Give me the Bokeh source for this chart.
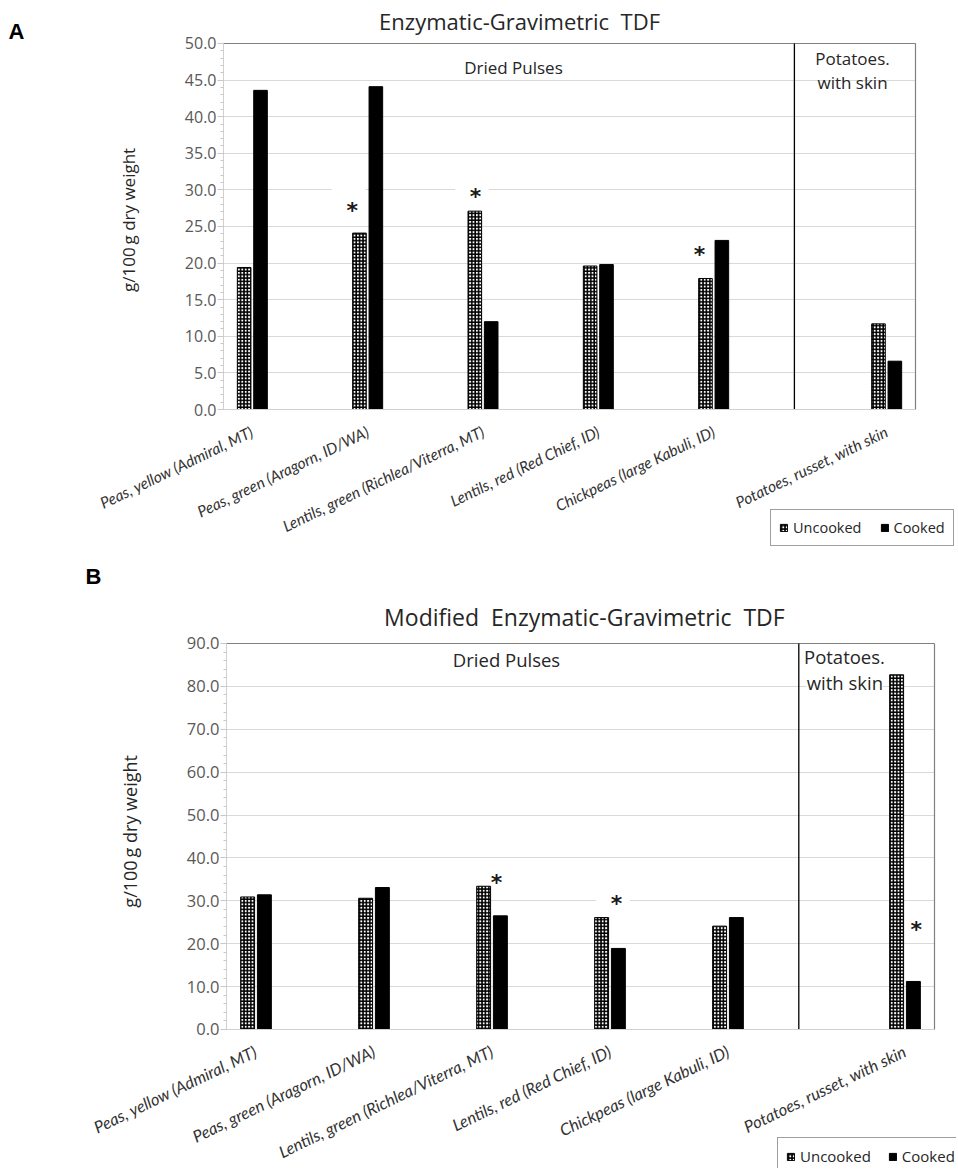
import math
from bokeh.plotting import figure
from bokeh.models import (Range1d, FixedTicker, SingleIntervalTicker, NumeralTickFormatter,
                          Label, Legend, LegendItem, ColumnDataSource)
from bokeh.layouts import column
from bokeh.embed import file_html
from bokeh.resources import INLINE

# ---------------- data ----------------
categories = ["Peas, yellow (Admiral, MT)", "Peas, green (Aragorn, ID/WA)",
              "Lentils, green (Richlea/Viterra, MT)", "Lentils, red (Red Chief, ID)",
              "Chickpeas (large Kabuli, ID)", "Potatoes, russet, with skin"]
groups = ["Dried Pulses"] * 5 + ["Potatoes"]
series = ["Uncooked", "Cooked"]

a_uncooked = [19.4, 24.1, 27.1, 19.6, 17.9, 11.7]
a_cooked = [43.6, 44.1, 12.0, 19.8, 23.1, 6.6]
b_uncooked = [30.9, 30.6, 33.4, 26.1, 24.1, 82.7]
b_cooked = [31.4, 33.1, 26.5, 18.9, 26.1, 11.2]

a_title = "Enzymatic-Gravimetric\u00a0\u00a0TDF"
b_title = "Modified\u00a0\u00a0Enzymatic-Gravimetric\u00a0\u00a0TDF"
y_label = "g/100\u2009g dry weight"
group_label_1 = "Dried Pulses"
group_label_2 = ["Potatoes.", "with skin"]

a_sig = [1, 2, 4]   # categories with significance asterisk
b_sig = [2, 3, 5]

# category positions (extra half slot between the two groups)
pos = []
g_idx = 0
prev = groups[0]
for i, g in enumerate(groups):
    if g != prev:
        g_idx += 1
        prev = g
    pos.append(i + 0.5 * g_idx)

BAR_W = 0.118
OFF = 0.071
XLO, XHI = -0.25, 5.75


def make_panel(unc, cook, ymax, yint, h, xr, yr, fonts, annot, legend_loc):
    p = figure(width=956, height=h, x_range=Range1d(*xr), y_range=Range1d(*yr),
               output_backend="svg", toolbar_location=None, min_border=0)
    p.title.visible = False
    p.outline_line_color = None
    p.background_fill_color = "white"
    p.border_fill_color = "white"

    src_u = ColumnDataSource(dict(x=[v - OFF for v in pos], top=unc))
    src_c = ColumnDataSource(dict(x=[v + OFF for v in pos], top=cook))

    # axes positioned at the plot-area edges
    xa = p.xaxis[0]
    xa.fixed_location = 0
    xa.bounds = (XLO, XHI)
    xa.ticker = FixedTicker(ticks=pos)
    xa.major_label_overrides = {pos[i]: categories[i] for i in range(len(pos))}
    xa.major_label_orientation = 0.45
    xa.major_label_text_font = "Lato"
    xa.major_label_text_font_style = "italic"
    xa.major_label_text_font_size = fonts["cat"]
    xa.major_label_text_color = "#333333"
    xa.major_tick_line_color = None
    xa.minor_tick_line_color = None
    xa.major_tick_out = 0
    xa.major_tick_in = 0
    xa.major_label_standoff = 21
    xa.axis_line_color = "#d0d0d0"

    ya = p.yaxis[0]
    ya.fixed_location = XLO
    ya.bounds = (0, ymax)
    ya.ticker = SingleIntervalTicker(interval=yint, num_minor_ticks=5)
    ya.formatter = NumeralTickFormatter(format="0.0")
    ya.axis_line_color = "#d0d0d0"
    ya.major_tick_line_color = "#c8c8c8"
    ya.major_tick_out = 6
    ya.major_tick_in = 0
    ya.minor_tick_line_color = "#c8c8c8"
    ya.minor_tick_out = 3
    ya.minor_tick_in = 0
    ya.major_label_text_font = "Open Sans"
    ya.major_label_text_font_size = fonts["tick"]
    ya.major_label_text_color = "#595959"
    ya.major_label_standoff = 1

    p.xgrid.visible = False
    yg = p.ygrid[0]
    yg.ticker = ya.ticker
    yg.bounds = (0, ymax)
    yg.cross_bounds = (XLO, XHI)
    yg.grid_line_color = "#d9d9d9"
    yg.level = "image"

    # white boxes behind the asterisks (interrupt the gridlines, beneath bars)
    stars = annot["stars"]
    p.rect(x=[s[0] - annot["box_dx"] for s in stars], y=[s[1] + annot["box_dy"] for s in stars],
           width=34, height=30, width_units="screen", height_units="screen",
           fill_color="white", line_color=None, level="underlay")
    (px1, py1), (px2, py2) = annot["potato"]
    p.add_layout(Label(x=px2, y=py2, text=group_label_2[1], text_align="center",
                       text_baseline="middle", text_font="Open Sans",
                       text_font_size=fonts["group"], text_color="#262626",
                       background_fill_color=annot["skin_bg"], level="underlay"))

    # plot-area border (top, right) and the group divider
    p.segment(x0=[XLO, XHI], y0=[ymax, 0], x1=[XHI, XHI], y1=[ymax, ymax],
              line_color="#808080", line_width=1.2)
    p.segment(x0=[annot["divider"]], y0=[0], x1=[annot["divider"]], y1=[ymax],
              line_color="black", line_width=1.3)

    r_u = p.vbar(x="x", top="top", width=BAR_W, source=src_u, fill_color="white",
                 line_color="black", line_width=1, hatch_pattern="cross",
                 hatch_color="black", hatch_scale=3.4, hatch_weight=1.7)
    r_c = p.vbar(x="x", top="top", width=BAR_W, source=src_c, fill_color="black",
                 line_color="black", line_width=1)

    for (sx, sy) in stars:
        p.add_layout(Label(x=sx, y=sy, text="*", text_align="center",
                           text_baseline="middle", text_font="DejaVu Sans", text_font_style="bold",
                           text_font_size="22px", text_color="#1a1a1a"))

    # other texts
    tx, ty = annot["title"]
    p.add_layout(Label(x=tx, y=ty, text=annot["title_text"], text_align="center",
                       text_baseline="middle", text_font="Open Sans",
                       text_font_size=fonts["title"], text_color="#262626"))
    lx, ly = annot["letter"]
    p.add_layout(Label(x=lx, y=ly, text=annot["letter_text"], text_align="center",
                       text_baseline="middle", text_font="Liberation Sans", text_font_style="bold",
                       text_font_size="22px", text_color="black"))
    yx, yy = annot["ylabel"]
    p.add_layout(Label(x=yx, y=yy, text=y_label, angle=math.pi / 2, text_align="center",
                       text_baseline="middle", text_font="Open Sans",
                       text_font_size=fonts["ylab"], text_color="#262626"))
    dx, dy = annot["dried"]
    p.add_layout(Label(x=dx, y=dy, text=group_label_1, text_align="center",
                       text_baseline="middle", text_font="Open Sans",
                       text_font_size=fonts["group"], text_color="#262626"))
    p.add_layout(Label(x=px1, y=py1, text=group_label_2[0], text_align="center",
                       text_baseline="middle", text_font="Open Sans",
                       text_font_size=fonts["group"], text_color="#262626"))

    leg = Legend(items=[LegendItem(label=series[0], renderers=[r_u]),
                        LegendItem(label=series[1], renderers=[r_c])],
                 orientation="horizontal", location=legend_loc,
                 border_line_color="#404040", border_line_width=1,
                 background_fill_color="white", background_fill_alpha=1,
                 label_text_font="Open Sans", label_text_font_size=fonts["legend"],
                 label_text_color="#262626", glyph_width=9, glyph_height=9,
                 label_standoff=5, spacing=fonts["leg_sp"], padding=8, label_height=16, margin=0)
    p.add_layout(leg)
    return p


# Panel A: plot area spans x 223..915 px, y 43..409 px (canvas 956 x 560)
a_stars = [(pos[a_sig[0]] - 0.134, 27.2), (pos[a_sig[1]] - 0.065, 29.1), (pos[a_sig[2]] - 0.123, 21.2)]
pA = make_panel(a_uncooked, a_cooked, 50, 5, 560, (-2.1835, 6.1055), (-20.628, 55.874),
                dict(cat="15.5px", tick="16px", title="22px", ylab="17px", group="17px",
                     legend="14.5px", leg_sp=18),
                dict(divider=4.7, title=(2.317, 53.1), title_text=a_title, letter=(-2.045, 51.6),
                     letter_text="A", ylabel=(-1.07, 25.9), dried=(2.264, 46.7),
                     potato=((5.204, 47.95), (5.204, 44.67)), skin_bg=None,
                     stars=a_stars, box_dx=0.03, box_dy=0.9),
                (770, 14))

# Panel B: plot area spans x 226..934 px, y 643..1029 px (canvas 956 x 608, top at 560)
b_stars = [(pos[b_sig[0]] + 0.038, 34.3), (pos[b_sig[1]] + 0.055, 29.3), (pos[b_sig[2]] + 0.095, 23.2)]
pB = make_panel(b_uncooked, b_cooked, 90, 10, 608, (-2.1653, 5.9364), (-32.41, 109.35),
                dict(cat="16.5px", tick="16.5px", title="23px", ylab="18px", group="18.5px",
                     legend="15px", leg_sp=17),
                dict(divider=4.6, title=(2.783, 96.2), title_text=b_title, letter=(-1.377, 105.7),
                     letter_text="B", ylabel=(-1.07, 46.2), dried=(2.123, 86.2),
                     potato=((4.987, 86.9), (4.99, 80.9)), skin_bg="white",
                     stars=b_stars, box_dx=0.03, box_dy=1.6),
                (777, -7))

layout = column(pA, pB)
open("out.html", "w").write(file_html(layout, INLINE))
